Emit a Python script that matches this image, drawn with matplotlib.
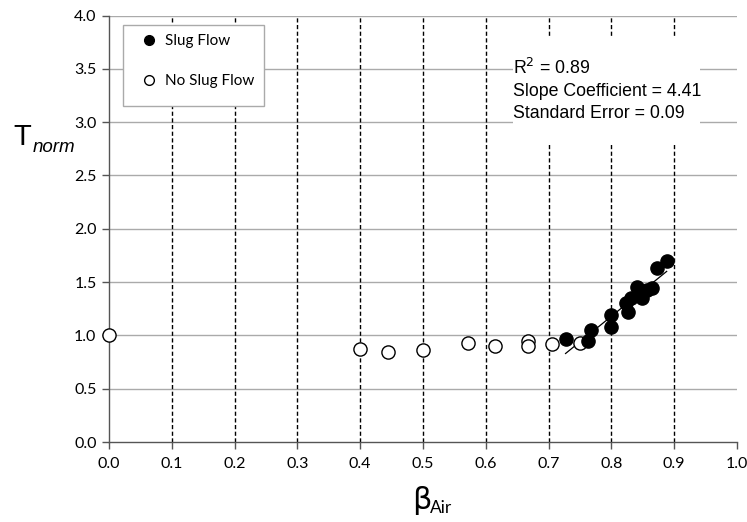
import matplotlib
matplotlib.use("Agg")
import matplotlib.pyplot as plt
from matplotlib.patches import Rectangle
from matplotlib.lines import Line2D

# Data
noslug_x = [0.0, 0.40, 0.444, 0.50, 0.571, 0.614, 0.667, 0.667, 0.705, 0.75]
noslug_y = [1.00, 0.875, 0.84, 0.865, 0.925, 0.90, 0.945, 0.90, 0.915, 0.925]
slug_x = [0.727, 0.762, 0.768, 0.799, 0.799, 0.823, 0.826, 0.832, 0.840, 0.848,
          0.856, 0.864, 0.872, 0.888]
slug_y = [0.97, 0.95, 1.055, 1.195, 1.075, 1.30, 1.215, 1.35, 1.455, 1.35,
          1.425, 1.445, 1.63, 1.70]
trend_x = [0.727, 0.888]
trend_y = [0.83, 1.60]
x_ticks = [0.0, 0.1, 0.2, 0.3, 0.4, 0.5, 0.6, 0.7, 0.8, 0.9, 1.0]
y_ticks = [0.0, 0.5, 1.0, 1.5, 2.0, 2.5, 3.0, 3.5, 4.0]
legend_labels = ["Slug Flow", "No Slug Flow"]
stats_text = "R$^2$ = 0.89\nSlope Coefficient = 4.41\nStandard Error = 0.09"

W, H = 747, 522
AX_L, AX_R, AX_T, AX_B = 109, 737, 15.5, 442
fig = plt.figure(figsize=(W / 100, H / 100), dpi=100)
ax = fig.add_axes([AX_L / W, 1 - AX_B / H, (AX_R - AX_L) / W, (AX_B - AX_T) / H])


def ax_frac(px, py):
    return ((px - AX_L) / (AX_R - AX_L), (AX_B - py) / (AX_B - AX_T))


tick_font = "Lato"

ax.set_xlim(0, 1.0)
ax.set_ylim(0, 4.0)
ax.set_xticks(x_ticks)
ax.set_yticks(y_ticks)
ax.set_xticklabels([f"{v:.1f}" for v in x_ticks], family=tick_font, fontsize=11.5)
ax.set_yticklabels([f"{v:.1f}" for v in y_ticks], family=tick_font, fontsize=11.5)
ax.tick_params(axis="both", direction="out", length=5, color="#555555", width=1)
ax.tick_params(axis="x", pad=6)
ax.tick_params(axis="y", pad=4)

for s in ["top", "right"]:
    ax.spines[s].set_visible(False)
for s in ["left", "bottom"]:
    ax.spines[s].set_color("#555555")
    ax.spines[s].set_linewidth(1)

# gridlines
for yv in y_ticks[1:]:
    ax.axhline(yv, color="#aaaaaa", lw=1, zorder=0.5)
for xv in x_ticks[1:-1]:
    ax.axvline(xv, color="black", lw=1, linestyle=(0, (3, 1.8)), zorder=0.6)

# white box behind stats text
ax.add_patch(Rectangle((0.643, 2.80), 0.298, 0.99, facecolor="white",
                       edgecolor="none", zorder=1.5))
ax.text(0.643, 3.30, stats_text, family="Liberation Sans", fontsize=12.8,
        va="center", ha="left", linespacing=1.4, zorder=2)

# data
ax.plot(trend_x, trend_y, color="black", lw=0.9, zorder=2.5)
ax.plot(noslug_x, noslug_y, "o", ms=9.5, mfc="white", mec="black", mew=1,
        linestyle="none", zorder=3, clip_on=False)
ax.plot(slug_x, slug_y, "o", ms=9.5, mfc="black", mec="black", mew=1,
        linestyle="none", zorder=4)

# legend frame
x0, y1 = ax_frac(123, 25)
x1, y0 = ax_frac(264, 106)
ax.add_patch(Rectangle((x0, y0), x1 - x0, y1 - y0, transform=ax.transAxes,
                       facecolor="white", edgecolor="#aaaaaa", lw=1, zorder=5))
lh = [Line2D([], [], marker="o", ms=7, mfc="black", mec="black", ls="none"),
      Line2D([], [], marker="o", ms=7, mfc="white", mec="black", ls="none")]
leg = ax.legend(lh, legend_labels, loc="upper left",
                bbox_to_anchor=ax_frac(134, 31),
                borderaxespad=0, frameon=False,
                prop={"family": "Lato", "size": 11}, labelspacing=1.72,
                handletextpad=0.3, borderpad=0.2, handlelength=1.5)
leg.set_zorder(6)

# axis labels
fig.text(13 / W, 1 - 145 / H, "T", fontsize=21, family="Liberation Sans",
         ha="left", va="baseline")
fig.text(33 / W, 1 - 152 / H, "norm", fontsize=13.5, family="Liberation Sans",
         style="italic", ha="left", va="baseline")
fig.text(412 / W, 1 - 509 / H, "β", fontsize=22, family="DejaVu Sans",
         ha="left", va="baseline")
fig.text(430 / W, 1 - 513 / H, "Air", fontsize=12.5, family="Lato",
         ha="left", va="baseline")

fig.savefig("out.png", dpi=100)
